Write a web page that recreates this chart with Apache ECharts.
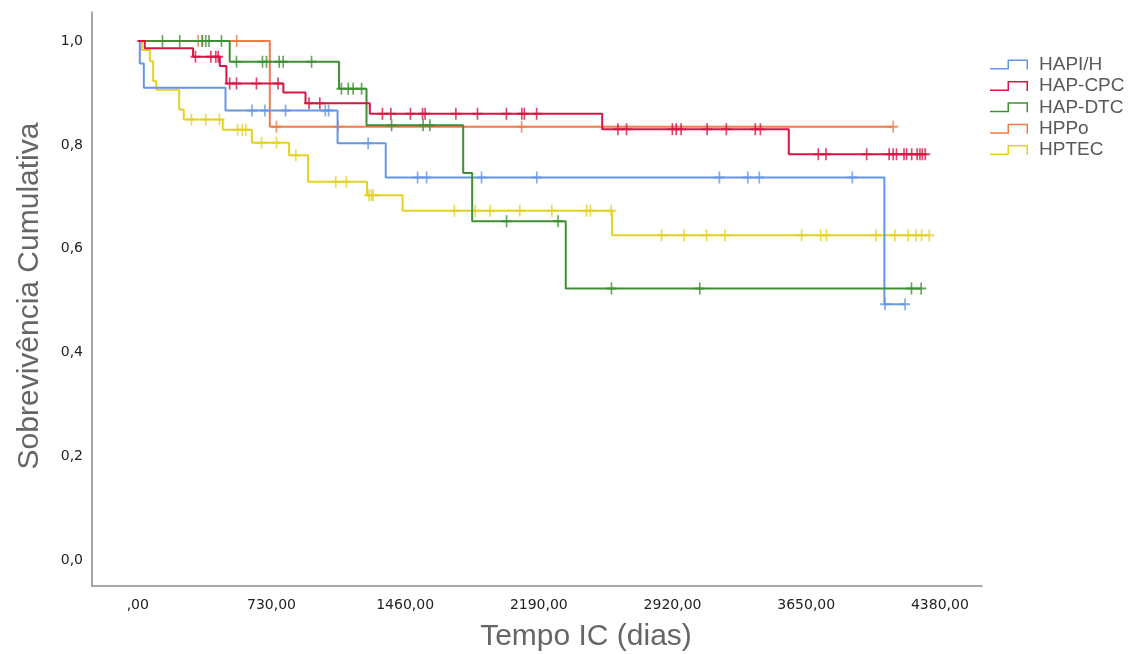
<!DOCTYPE html>
<html>
<head>
<meta charset="utf-8">
<title>Sobrevivência Cumulativa</title>
<script src="https://cdn.jsdelivr.net/npm/echarts@6/dist/echarts.min.js"></script>
<style>
html, body { margin: 0; padding: 0; background: #fff; }
#chart { width: 1136px; height: 654px; }
</style>
</head>
<body>
<div id="chart"></div>
<script>
// grupos, na ordem da legenda
const groups = ['HAPI/H', 'HAP-CPC', 'HAP-DTC', 'HPPo', 'HPTEC']
const colors = ['#6496e6', '#d81443', '#3f8f34', '#f47a48', '#e2d323']

// tempos dos eventos (dias), sobrevivência após cada evento e tempos censurados
const hapiTimes = [11, 33, 479, 1091, 1354, 4077]
const hapiSurv = [0.957, 0.910, 0.866, 0.803, 0.737, 0.493]
const hapiCens = [624, 694, 807, 1024, 1042, 1258, 1528, 1577, 1877, 2179, 3176, 3331, 3394, 3902, 4080, 4190]

const cpcTimes = [38, 302, 448, 484, 795, 916, 1267, 2536, 3555]
const cpcSurv = [0.986, 0.970, 0.952, 0.918, 0.901, 0.880, 0.860, 0.830, 0.782]
const cpcCens = [315, 399, 426, 439, 502, 539, 648, 766, 935, 994,
    1336, 1382, 1489, 1555, 1569, 1737, 1855, 2013, 2097, 2111, 2178,
    2622, 2669, 2919, 2940, 2967, 3109, 3214, 3372, 3400,
    3716, 3758, 3980, 4103, 4125, 4143, 4184, 4198, 4226, 4256, 4271, 4284, 4300]

const dtcTimes = [502, 1099, 1249, 1777, 1826, 2337]
const dtcSurv = [0.960, 0.908, 0.838, 0.746, 0.653, 0.523]
const dtcCens = [135, 229, 353, 371, 389, 457, 539, 681, 703, 772, 794, 949,
    1112, 1149, 1176, 1222, 1386, 1558, 1595, 2014, 2295, 2587, 3069, 4225, 4278]

const hppoTimes = [721]
const hppoSurv = [0.835]
const hppoCens = [330, 350, 540, 757, 1094, 2096, 4125]

const hptecTimes = [22, 66, 84, 101, 226, 251, 464, 623, 826, 930, 1252, 1446, 2590]
const hptecSurv = [0.983, 0.961, 0.923, 0.906, 0.868, 0.849, 0.829, 0.804, 0.780, 0.729, 0.703, 0.673, 0.626]
const hptecCens = [293, 371, 446, 545, 571, 590, 676, 757, 863, 1081, 1139, 1263, 1276, 1285,
    1729, 1843, 1924, 2086, 2261, 2451, 2472, 2585, 2860, 2983, 3106, 3206,
    3625, 3729, 3761, 4031, 4134, 4207, 4249, 4280, 4322]

// eixos
const xTicks = [0, 730, 1460, 2190, 2920, 3650, 4380]
const yTicks = [0, 0.2, 0.4, 0.6, 0.8, 1.0]

const curves = [
    [hapiTimes, hapiSurv, hapiCens],
    [cpcTimes, cpcSurv, cpcCens],
    [dtcTimes, dtcSurv, dtcCens],
    [hppoTimes, hppoSurv, hppoCens],
    [hptecTimes, hptecSurv, hptecCens]
]

function survAt(times, surv, t) {
    let s = 1
    for (let i = 0; i < times.length; i++) {
        if (times[i] <= t) s = surv[i]
    }
    return s
}

function stepData(times, surv, cens) {
    const pts = [[0, 1]]
    times.forEach((t, i) => pts.push([t, surv[i]]))
    const end = Math.max(times[times.length - 1], cens[cens.length - 1])
    pts.push([end, surv[surv.length - 1]])
    return pts
}

const plusMark = 'path://M5,0 h2 v12 h-2 z M0,5 h12 v2 h-12 z'
const legendIcon = 'path://M0,8.5 h19 v1.5 h-19 z M17.5,0 h1.5 v10 h-1.5 z M17.5,0 h20.5 v1.5 h-20.5 z M36.5,0 h1.5 v10 h-1.5 z'

// ordem de desenho: laranja por baixo, vermelho por cima
const drawOrder = [3, 4, 0, 2, 1]
const series = []
drawOrder.forEach((g, k) => {
    const [times, surv, cens] = curves[g]
    series.push({
        name: groups[g],
        type: 'line',
        step: 'end',
        data: stepData(times, surv, cens),
        showSymbol: false,
        symbol: 'none',
        color: colors[g],
        lineStyle: { color: colors[g], width: 2 },
        z: 2 + k,
        animation: false
    })
    series.push({
        name: groups[g],
        type: 'scatter',
        data: cens.map(t => [t, survAt(times, surv, t)]),
        symbol: plusMark,
        symbolSize: [10, 12],
        color: colors[g],
        itemStyle: { color: colors[g] },
        z: 2 + k,
        animation: false
    })
})

const fmtX = v => v === 0 ? ',00' : v + ',00'
const fmtY = v => v.toFixed(1).replace('.', ',')

const chart = echarts.init(document.getElementById('chart'), null, { renderer: 'canvas' })
chart.setOption({
    animation: false,
    color: colors,
    grid: { left: 92, right: 154, top: 12, bottom: 68 },
    xAxis: {
        type: 'value',
        min: -250,
        max: 4610,
        axisLine: { onZero: false, lineStyle: { color: '#8a8a8a', width: 1.5 } },
        axisTick: { show: false },
        splitLine: { show: false },
        axisLabel: {
            customValues: xTicks,
            formatter: fmtX,
            margin: 12,
            color: '#222',
            fontFamily: 'DejaVu Sans',
            fontSize: 14
        }
    },
    yAxis: {
        type: 'value',
        min: -0.05,
        max: 1.056,
        axisLine: { show: true, onZero: false, lineStyle: { color: '#8a8a8a', width: 1.5 } },
        axisTick: { show: false },
        splitLine: { show: false },
        axisLabel: {
            customValues: yTicks,
            formatter: fmtY,
            margin: 9,
            color: '#222',
            fontFamily: 'DejaVu Sans',
            fontSize: 14
        }
    },
    legend: {
        orient: 'vertical',
        left: 985,
        top: 50,
        itemWidth: 38,
        itemHeight: 10,
        itemGap: 2.4,
        selectedMode: false,
        textStyle: {
            color: '#595959',
            fontFamily: 'Liberation Sans',
            fontSize: 19,
            lineHeight: 19,
            padding: [0, 0, 0, 6]
        },
        data: groups.map((name, i) => ({ name, icon: legendIcon, itemStyle: { color: colors[i] } }))
    },
    graphic: [
        {
            type: 'text',
            x: 586,
            y: 637,
            style: {
                text: 'Tempo IC (dias)',
                font: '30px "Liberation Sans"',
                fill: '#666',
                align: 'center',
                verticalAlign: 'middle',
                textAlign: 'center',
                textVerticalAlign: 'middle'
            }
        },
        {
            type: 'text',
            x: 30,
            y: 296,
            rotation: Math.PI / 2,
            style: {
                text: 'Sobrevivência Cumulativa',
                font: '30px "Liberation Sans"',
                fill: '#666',
                align: 'center',
                verticalAlign: 'middle',
                textAlign: 'center',
                textVerticalAlign: 'middle'
            }
        }
    ],
    series: series
})
</script>
</body>
</html>
